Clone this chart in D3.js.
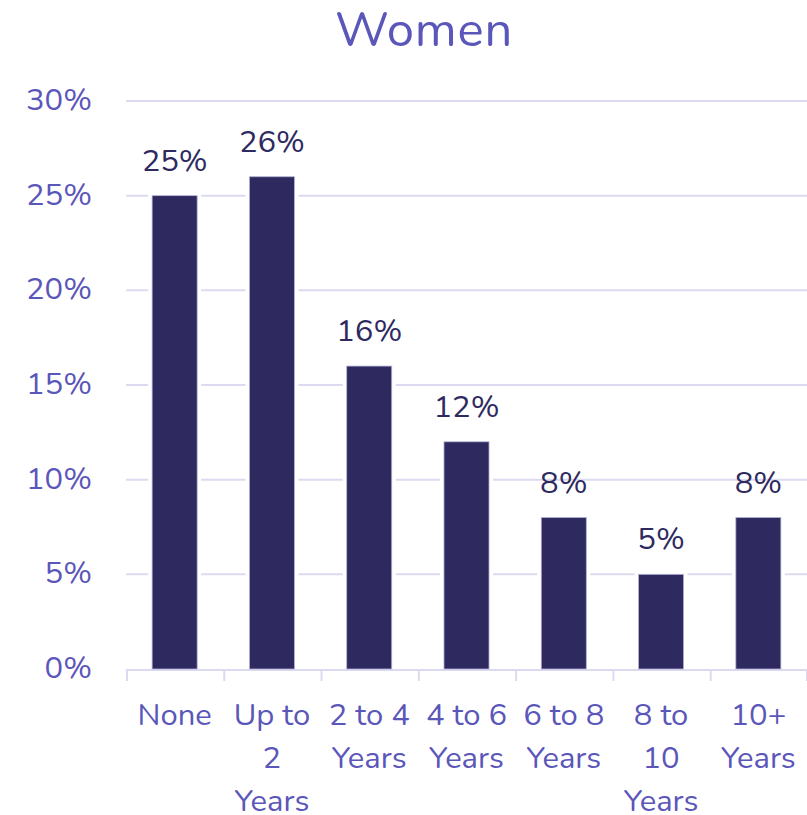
<!DOCTYPE html>
<html>
<head>
<meta charset="utf-8">
<script src="https://cdn.jsdelivr.net/npm/d3@7"></script>
<style>
  html, body { margin: 0; padding: 0; background: #ffffff; }
  svg { display: block; }
  text { font-family: Nunito, Lato, "Noto Sans", sans-serif; }
</style>
</head>
<body>
<svg id="chart" width="807" height="815"></svg>
<script>
// Years of experience, share of women (%)
const categories = ["None", "Up to 2 Years", "2 to 4 Years", "4 to 6 Years", "6 to 8 Years", "8 to 10 Years", "10+ Years"];
const categoryLines = [["None"], ["Up to", "2", "Years"], ["2 to 4", "Years"], ["4 to 6", "Years"], ["6 to 8", "Years"], ["8 to", "10", "Years"], ["10+", "Years"]];
const values = [25, 26, 16, 12, 8, 5, 8];
const yTicks = [0, 5, 10, 15, 20, 25, 30];
const title = "Women";

const svg = d3.select("#chart");
const plot = { left: 126, right: 807, top: 101, bottom: 669 };
const axisColor = "#5b56b9";
const gridColor = "#dcdaf0";
const barColor = "#2e2a5f";

const cell = d3.scaleBand().domain(categories).range([plot.left, plot.right]).padding(0);
const x = d3.scaleBand().domain(categories).range([plot.left, plot.right]).paddingInner(0.537).paddingOuter(0.2685);
const y = d3.scaleLinear().domain([0, 30]).range([plot.bottom, plot.top]);

// Title
svg.append("text")
  .attr("x", 424).attr("y", 46)
  .attr("text-anchor", "middle")
  .attr("font-size", 49)
  .attr("letter-spacing", 0.8)
  .attr("fill", axisColor)
  .text(title);

// Gridlines
svg.append("g").selectAll("line")
  .data(yTicks.filter(t => t > 0))
  .join("line")
  .attr("x1", plot.left).attr("x2", plot.right)
  .attr("y1", d => y(d)).attr("y2", d => y(d))
  .attr("stroke", gridColor).attr("stroke-width", 2);

// Y tick labels
svg.append("g").selectAll("text")
  .data(yTicks)
  .join("text")
  .attr("x", 92).attr("y", d => y(d) + 9)
  .attr("text-anchor", "end")
  .attr("font-size", 31)
  .attr("fill", axisColor)
  .text(d => d + "%");

// Bottom axis line and ticks at category boundaries
svg.append("line")
  .attr("x1", plot.left).attr("x2", plot.right)
  .attr("y1", plot.bottom + 1).attr("y2", plot.bottom + 1)
  .attr("stroke", gridColor).attr("stroke-width", 2);

svg.append("g").selectAll("line")
  .data(categories.concat(["__end"]))
  .join("line")
  .attr("x1", (d, i) => i < categories.length ? cell(d) + 1 : plot.right)
  .attr("x2", (d, i) => i < categories.length ? cell(d) + 1 : plot.right)
  .attr("y1", plot.bottom + 1).attr("y2", plot.bottom + 12)
  .attr("stroke", gridColor).attr("stroke-width", 2);

// Bars with a white halo that breaks the gridlines
const bars = svg.append("g");
bars.selectAll("rect.halo")
  .data(values)
  .join("rect")
  .attr("class", "halo")
  .attr("x", (d, i) => x(categories[i]) - 4)
  .attr("y", d => y(d) - 3)
  .attr("width", x.bandwidth() + 8)
  .attr("height", d => y(0) - y(d) + 3)
  .attr("fill", "#ffffff");

bars.selectAll("rect.bar")
  .data(values)
  .join("rect")
  .attr("class", "bar")
  .attr("x", (d, i) => x(categories[i]))
  .attr("y", d => y(d))
  .attr("width", x.bandwidth())
  .attr("height", d => y(0) - y(d))
  .attr("fill", barColor)
  .attr("stroke", "#b5b2d6")
  .attr("stroke-width", 0.8);

// Value labels
svg.append("g").selectAll("text")
  .data(values)
  .join("text")
  .attr("x", (d, i) => x(categories[i]) + x.bandwidth() / 2)
  .attr("y", d => y(d) - 25)
  .attr("text-anchor", "middle")
  .attr("font-size", 31)
  .attr("fill", barColor)
  .text(d => d + "%");

// Category labels, wrapped over several lines
const xl = svg.append("g").selectAll("text")
  .data(categories)
  .join("text")
  .attr("text-anchor", "middle")
  .attr("font-size", 31)
  .attr("fill", axisColor);
xl.each(function (d, i) {
  const t = d3.select(this);
  categoryLines[i].forEach((line, k) => {
    t.append("tspan")
      .attr("x", x(d) + x.bandwidth() / 2)
      .attr("y", 725 + k * 43)
      .text(line);
  });
});
</script>
</body>
</html>
